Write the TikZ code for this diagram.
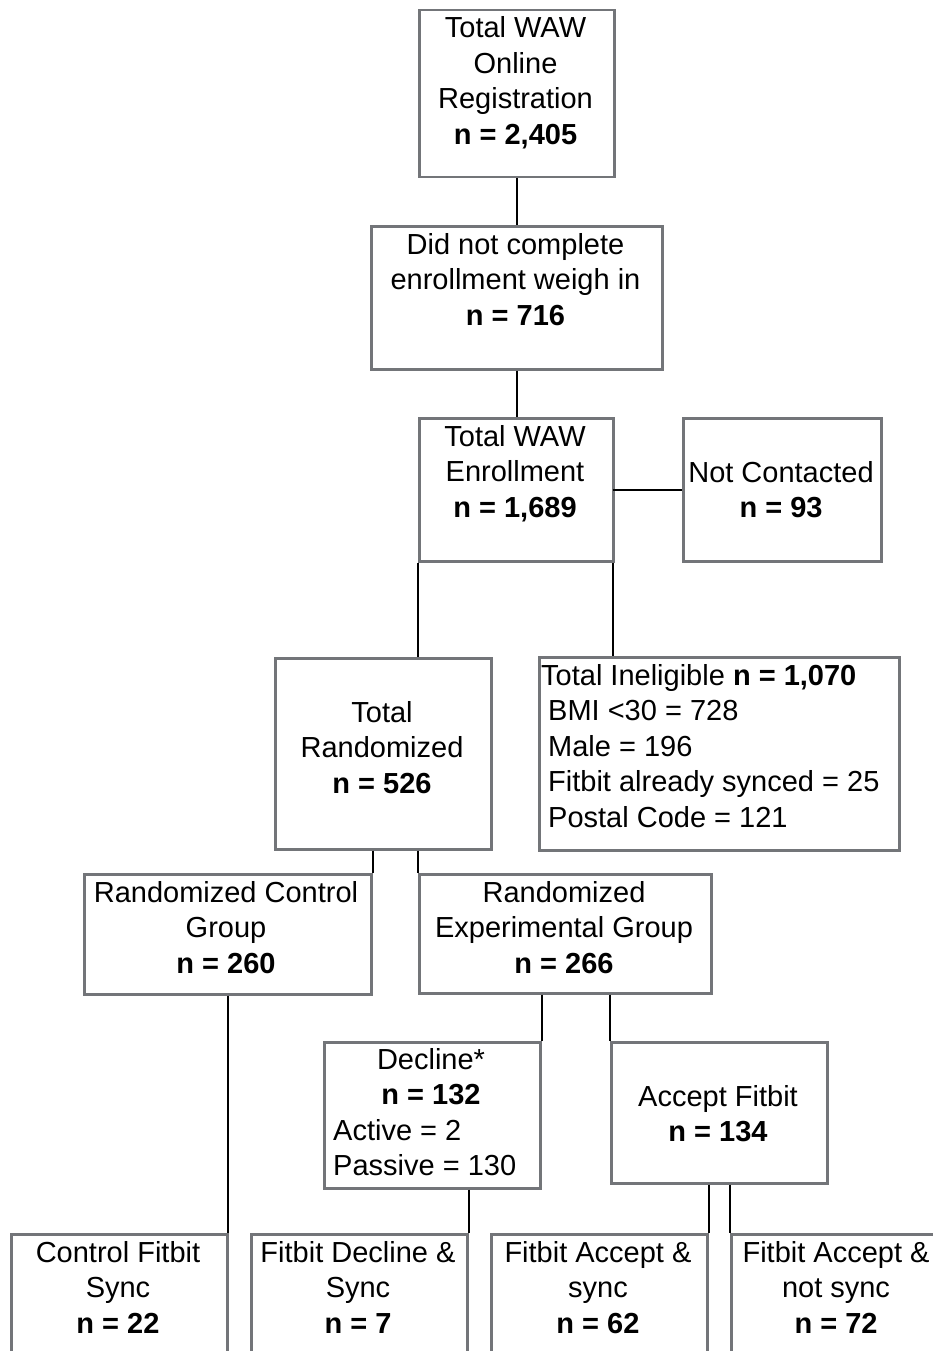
\documentclass[tikz,border=0pt]{standalone}
\usepackage{fontspec}
\setmainfont{Liberation Sans}
\definecolor{boxgray}{RGB}{115,117,121}
\tikzset{
  box/.style={draw=boxgray, line width=2.5pt, inner sep=0pt, anchor=north west, minimum width=#1},
  box/.default=216pt,
  txt/.style={inner sep=0pt, align=center, anchor=base, font=\fontsize{29}{35.5}\selectfont},
  ltxt/.style={inner sep=0pt, align=left, anchor=base west, font=\fontsize{29}{35.5}\selectfont},
  conn/.style={draw=black, line width=2pt}
}
\begin{document}
\begin{tikzpicture}[x=1pt,y=-1pt]
\useasboundingbox (0,0) rectangle (933,1351);
\clip (0,0) rectangle (933,1351);
% boxes
\node[box=195pt, minimum height=167pt] (reg) at (418,9) {};
\node[box=291pt, minimum height=143pt] (dnc) at (370,225) {};
\node[box=194pt, minimum height=143pt] (enr) at (418,417) {};
\node[box=198pt, minimum height=143pt] (nc) at (682,417) {};
\node[box=216pt, minimum height=191pt] (rnd) at (274,657) {};
\node[box=360pt, minimum height=193pt] (inel) at (538,656) {};
\node[box=287pt, minimum height=120pt] (ctl) at (83,873) {};
\node[box=292pt, minimum height=119pt] (exp) at (418,873) {};
\node[box=216pt, minimum height=146pt] (dec) at (323,1041) {};
\node[box=216pt, minimum height=141pt] (acc) at (610,1041) {};
\node[box=216pt, minimum height=200pt] (b1) at (10,1233) {};
\node[box=216pt, minimum height=200pt] (b2) at (250,1233) {};
\node[box=216pt, minimum height=200pt] (b3) at (490,1233) {};
\node[box=216pt, minimum height=200pt] (b4) at (730,1233) {};
% texts (anchor = baseline of the last line)
\node[txt] (regT) at (515.5,144.5) {Total WAW\\Online\\Registration\\\textbf{n = 2,405}};
\node[txt] (dncT) at (515.5,325) {Did not complete\\enrollment weigh in\\\textbf{n = 716}};
\node[txt] (enrT) at (515,517) {Total WAW\\Enrollment\\\textbf{n = 1,689}};
\node[txt] (ncT) at (781,517.5) {Not Contacted\\\textbf{n = 93}};
\node[txt] (rndT) at (382,793) {Total\\Randomized\\\textbf{n = 526}};
\node[ltxt] (inelT) at (541,827) {Total Ineligible \textbf{n = 1,070}\\\hspace*{7pt}BMI <30 = 728\\\hspace*{7pt}Male = 196\\\hspace*{7pt}Fitbit already synced = 25\\\hspace*{7pt}Postal Code = 121};
\node[txt] (ctlT) at (226,973) {Randomized Control\\Group\\\textbf{n = 260}};
\node[txt] (expT) at (564,973) {Randomized\\Experimental Group\\\textbf{n = 266}};
\node[txt] (decT) at (431,1104.5) {Decline*\\\textbf{n = 132}};
\node[ltxt] (decL) at (333,1175.5) {Active = 2\\Passive = 130};
\node[txt] (accT) at (718,1141.5) {Accept Fitbit\\\textbf{n = 134}};
\node[txt] (b1T) at (118,1333) {Control Fitbit\\Sync\\\textbf{n = 22}};
\node[txt] (b2T) at (358,1333) {Fitbit Decline \&\\Sync\\\textbf{n = 7}};
\node[txt] (b3T) at (598,1333) {Fitbit Accept \&\\sync\\\textbf{n = 62}};
\node[txt] (b4T) at (836,1333) {Fitbit Accept \&\\not sync\\\textbf{n = 72}};
% connectors
\draw[conn] (reg.south) -- (dnc.north);
\draw[conn] (dnc.south) -- (dnc.south |- enr.north);
\draw[conn] ([xshift=-2pt]enr.east) -- (nc.west);
\draw[conn] (enr.south west) -- (enr.south west |- rnd.north);
\draw[conn] ([xshift=-2pt]enr.south east) -- ([xshift=-2pt]enr.south east |- inel.north);
\draw[conn] (ctl.north east |- rnd.south) -- (ctl.north east);
\draw[conn] (exp.north west |- rnd.south) -- (exp.north west);
\draw[conn] (dec.north east |- exp.south) -- (dec.north east);
\draw[conn] (acc.north west |- exp.south) -- (acc.north west);
\draw[conn] (ctl.south) -- (ctl.south |- b1.north);
\draw[conn] (b2.north east |- dec.south) -- (b2.north east);
\draw[conn] (b3.north east |- acc.south) -- (b3.north east);
\draw[conn] (b4.north west |- acc.south) -- (b4.north west);
\end{tikzpicture}
\end{document}
